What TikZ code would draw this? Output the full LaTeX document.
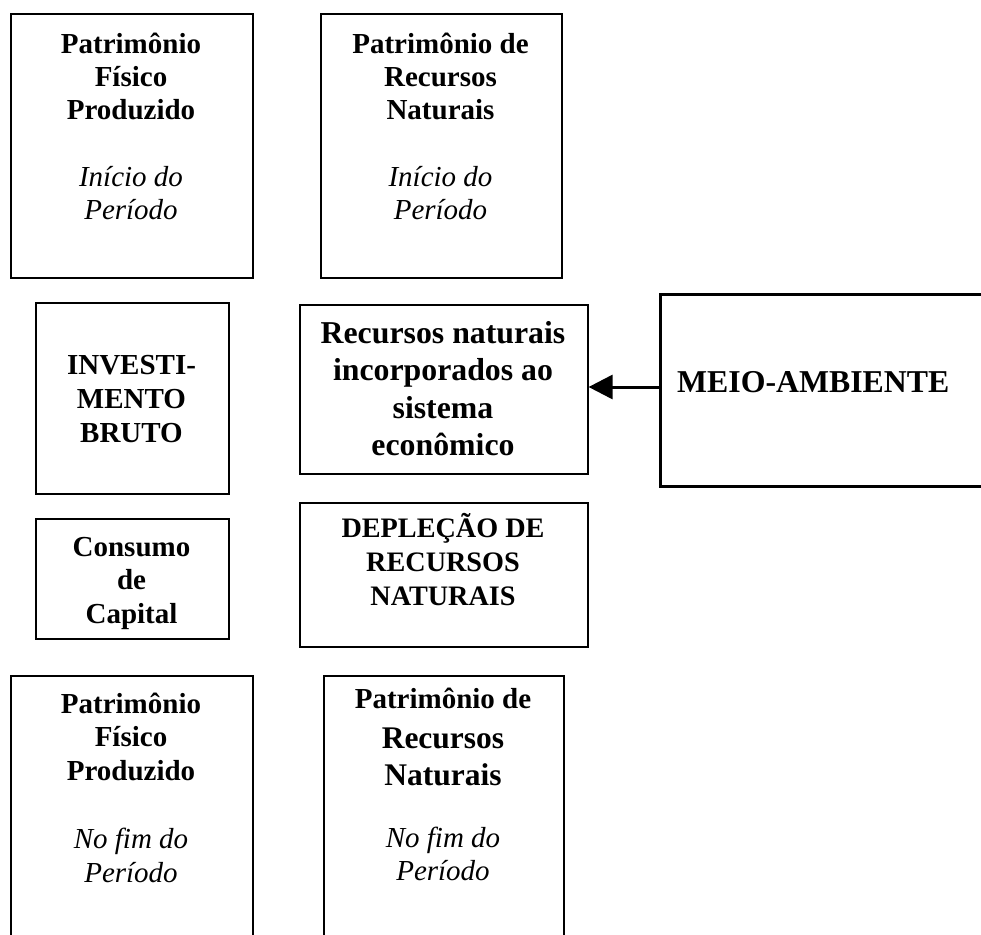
\documentclass[tikz,border=0pt]{standalone}
\usepackage{fontspec}
\setmainfont{Liberation Serif}
\usetikzlibrary{arrows.meta}
\tikzset{
  box/.style={draw, line width=1.6pt, inner sep=0pt, anchor=north west, rectangle},
  boxb/.style={box, line width=2.2pt},
  bigbox/.style={box, line width=3.2pt},
  txt/.style={align=center, anchor=base, inner sep=0pt, font=\fontsize{29}{33}\selectfont\bfseries},
  itxt/.style={txt, font=\fontsize{29}{33}\selectfont\itshape},
  bigtxt/.style={txt, font=\fontsize{31.8}{37.5}\selectfont\bfseries},
  flow/.style={line width=3pt, -{Triangle[length=24pt,width=24pt]}}
}
\begin{document}
\begin{tikzpicture}[x=1pt, y=-1pt]
\useasboundingbox (0,0) rectangle (981,934);
% top row (text nodes anchored at the baseline of their last line)
\node[box, minimum width=242pt, minimum height=264pt] (pfpi) at (10,13) {};
\node[txt] (pfpit) at (131,119) {Patrimônio\\Físico\\Produzido};
\node[itxt] (pfpip) at (131,219) {Início do\\Período};
\node[box, minimum width=241pt, minimum height=264pt] (prni) at (320,13) {};
\node[txt] (prnit) at (440.5,119) {Patrimônio de\\Recursos\\Naturais};
\node[itxt] (prnip) at (440.5,219) {Início do\\Período};
% middle
\node[box, minimum width=193pt, minimum height=191pt] (inv) at (35,302) {};
\node[txt, font=\fontsize{29}{34}\selectfont\bfseries] (invt) at (131.5,442) {INVESTI-\\MENTO\\BRUTO};
\node[box, minimum width=288pt, minimum height=169pt] (rec) at (299,304) {};
\node[bigtxt] (rect) at (443,455.5) {Recursos naturais\\incorporados ao\\sistema\\econômico};
\node[bigbox, minimum width=360pt, minimum height=192pt] (meio) at (659,293) {};
\node[bigtxt, anchor=base west] (meiot) at (677,392) {MEIO-AMBIENTE};
\draw[flow] (meio.west |- 0,387) -- (rec.east |- 0,387);
\node[box, minimum width=193pt, minimum height=120pt] (cons) at (35,518) {};
\node[txt, font=\fontsize{29}{33.5}\selectfont\bfseries] (const) at (131.5,623) {Consumo\\de\\Capital};
\node[box, minimum width=288pt, minimum height=144pt] (depl) at (299,502) {};
\node[txt, font=\fontsize{28.2}{34}\selectfont\bfseries] (deplt) at (443,605) {DEPLEÇÃO DE\\RECURSOS\\NATURAIS};
% bottom row
\node[boxb, minimum width=242pt, minimum height=300pt] (pfpf) at (10,675) {};
\node[txt, font=\fontsize{29}{33.5}\selectfont\bfseries] (pfpft) at (131,780) {Patrimônio\\Físico\\Produzido};
\node[itxt, font=\fontsize{29}{34}\selectfont\itshape] (pfpfp) at (131,882) {No fim do\\Período};
\node[boxb, minimum width=240pt, minimum height=300pt] (prnf) at (323,675) {};
\node[txt] (prnft) at (443,708) {Patrimônio de};
\node[bigtxt, font=\fontsize{31.5}{37}\selectfont\bfseries] (prnft2) at (443,785) {Recursos\\Naturais};
\node[itxt] (prnfp) at (443,880) {No fim do\\Período};
\end{tikzpicture}
\end{document}
